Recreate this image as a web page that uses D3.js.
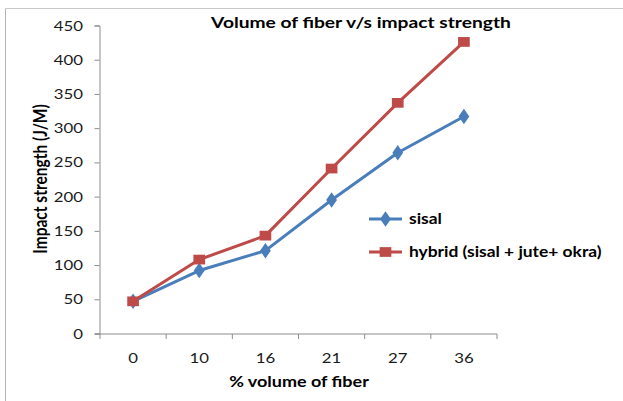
<!DOCTYPE html>
<html>
<head>
<meta charset="utf-8">
<script src="https://cdn.jsdelivr.net/npm/d3@7"></script>
<style>
    body { margin: 0; background: #fff; }
    svg { display: block; font-family: Lato, "Open Sans", sans-serif; }
</style>
</head>
<body>
<div id="chart"></div>
<script>
// data
const categories = ['0', '10', '16', '21', '27', '36']
const sisal = [47, 92, 121, 195, 264, 317]
const hybrid = [47, 108, 143, 241, 337, 426]
const yTicks = [0, 50, 100, 150, 200, 250, 300, 350, 400, 450]

const width = 623,
    height = 401
const margin = { top: 25.5, left: 100, right: 126, bottom: 67.5 }
// the source picture is stretched sideways, so the text is too
const stretch = 1.2

const svg = d3.select('#chart')
    .append('svg')
    .attr('width', width)
    .attr('height', height)

// put a text at (x, y) squeezed wider like the original
function addText(parent, x, y, str, size, anchor, bold) {
    return parent.append('text')
        .attr('transform', `translate(${x},${y}) scale(${stretch},1)`)
        .attr('text-anchor', anchor)
        .style('font-size', size + 'px')
        .style('font-weight', bold ? 'bold' : 'normal')
        .text(str)
}

// outer frame (only top and left edges show)
svg.append('line').attr('x1', 5.5).attr('x2', 5.5).attr('y1', 8.5).attr('y2', height)
    .attr('stroke', '#b4b4b4')
svg.append('line').attr('x1', 5.5).attr('x2', width).attr('y1', 8.5).attr('y2', 8.5)
    .attr('stroke', '#c8c8c8')

const x = d3.scaleBand()
    .domain(categories)
    .range([margin.left, width - margin.right])
const y = d3.scaleLinear()
    .domain([0, 450])
    .range([height - margin.bottom, margin.top])

// y axis
const yAxis = svg.append('g')
    .attr('transform', `translate(${margin.left - 0.5},0)`)
    .call(d3.axisLeft(y).tickValues(yTicks).tickSize(5).tickFormat(''))
yAxis.select('.domain').attr('stroke', '#8c8c8c')
yAxis.selectAll('.tick line').attr('stroke', '#8c8c8c')
yTicks.forEach(t => addText(svg, 83, y(t) + 5, t, 14, 'end', false).attr('fill', '#1a1a1a'))

// x axis, ticks between categories
const xAxisG = svg.append('g')
    .attr('transform', `translate(0,${height - margin.bottom + 0.5})`)
xAxisG.append('line')
    .attr('x1', x.range()[0] - 5).attr('x2', x.range()[1])
    .attr('stroke', '#8c8c8c')
xAxisG.selectAll('.xtick')
    .data(categories.concat(['end']))
    .enter()
    .append('line')
    .attr('x1', (d, i) => margin.left + i * x.step())
    .attr('x2', (d, i) => margin.left + i * x.step())
    .attr('y1', 0).attr('y2', 5)
    .attr('stroke', '#8c8c8c')
categories.forEach(c => addText(xAxisG, x(c) + x.bandwidth() / 2, 28.5, c, 14, 'middle', false).attr('fill', '#1a1a1a'))

// titles
addText(svg, 361, 28, 'Volume of fiber v/s impact strength', 16, 'middle', true)
addText(svg, 299, 387, '% volume of fiber', 15, 'middle', true)
svg.append('text')
    .attr('transform', `translate(47,179) scale(${stretch},1) rotate(-90)`)
    .attr('text-anchor', 'middle')
    .style('font-size', '15.5px').style('font-weight', 'bold')
    .text('Impact strength (J/M)')

const cx = d => x(d) + x.bandwidth() / 2
const line = d3.line()
    .x((d, i) => cx(categories[i]))
    .y(d => y(d))

const series = [
    { name: 'sisal', values: sisal, color: '#4a7ebb', marker: d3.symbolDiamond, size: 70 },
    { name: 'hybrid (sisal + jute+ okra)', values: hybrid, color: '#be4b48', marker: d3.symbolSquare, size: 95 }
]

series.forEach(s => {
    svg.append('path')
        .datum(s.values)
        .attr('d', line)
        .attr('fill', 'none')
        .attr('stroke', s.color)
        .attr('stroke-width', 3)
        .attr('stroke-linejoin', 'round')
    svg.selectAll(null)
        .data(s.values)
        .enter()
        .append('path')
        .attr('d', d3.symbol().type(s.marker).size(s.size))
        .attr('transform', (d, i) => `translate(${cx(categories[i])},${y(d)}) scale(${stretch},1)`)
        .attr('fill', s.color)
})

// legend
const legend = svg.append('g').attr('transform', 'translate(369,219)')
series.forEach((s, i) => {
    const g = legend.append('g').attr('transform', `translate(0,${i * 33})`)
    g.append('line').attr('x1', 0).attr('x2', 33)
        .attr('stroke', s.color).attr('stroke-width', 3)
    g.append('path')
        .attr('d', d3.symbol().type(s.marker).size(s.size))
        .attr('transform', `translate(16.5,0) scale(${stretch},1)`)
        .attr('fill', s.color)
    addText(g, 40, 5, s.name, 14.5, 'start', true)
})
</script>
</body>
</html>
